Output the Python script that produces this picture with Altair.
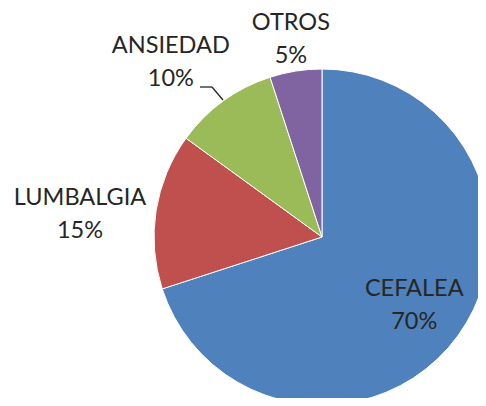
import altair as alt
import pandas as pd

categories = ["CEFALEA", "LUMBALGIA", "ANSIEDAD", "OTROS"]
values = [70, 15, 10, 5]
labels = ["CEFALEA\n70%", "LUMBALGIA\n15%", "ANSIEDAD\n10%", "OTROS\n5%"]
colors = ["#4F81BD", "#C0504D", "#9BBB59", "#8064A2"]

df = pd.DataFrame({"cat": categories, "val": values, "label": labels,
                   "order": list(range(len(categories)))})

CX, CY, R = 314, 229, 168
tscale = alt.Scale(domain=[0, 100])

pie = alt.Chart(df).mark_arc(outerRadius=R, stroke="white", strokeWidth=1).encode(
    theta=alt.Theta("val:Q", stack=True, scale=tscale),
    order=alt.Order("order:Q"),
    x=alt.value(CX), y=alt.value(CY),
    color=alt.Color("cat:N", scale=alt.Scale(domain=categories, range=colors), legend=None),
)

# label placement per slice: (radius, dx, dy)
place = {"CEFALEA": (114, 0, -15), "LUMBALGIA": (245, 0, -1),
         "ANSIEDAD": (230, -16, -5), "OTROS": (199, 0, -17)}

text_base = alt.Chart(df).transform_window(
    cum="sum(val)", sort=[alt.SortField("order")]
).transform_calculate(mid="datum.cum - datum.val / 2")

layers = [pie]
for c in categories:
    r, dx, dy = place[c]
    layers.append(
        text_base.transform_filter(alt.datum.cat == c)
        .mark_text(radius=r, dx=dx, dy=dy, font="Lato", fontSize=23.5,
                   color="#262626", lineBreak="\n", lineHeight=33,
                   align="center", baseline="middle")
        .encode(theta=alt.Theta("mid:Q", stack=None, scale=tscale),
                x=alt.value(CX), y=alt.value(CY), text="label:N")
    )

leader1 = alt.Chart(df).transform_filter(alt.datum.cat == "ANSIEDAD").mark_rule(
    color="#262626", strokeWidth=1.3).encode(
    x=alt.value(192), x2=alt.value(204), y=alt.value(79), y2=alt.value(79))
leader2 = alt.Chart(df).transform_filter(alt.datum.cat == "ANSIEDAD").mark_rule(
    color="#262626", strokeWidth=1.3).encode(
    x=alt.value(204), x2=alt.value(215), y=alt.value(79), y2=alt.value(92))

chart = alt.layer(*layers, leader1, leader2).properties(
    width=470, height=390, autosize=alt.AutoSizeParams(type="none"), padding=0
).configure_view(stroke=None)

chart.save("out.html", embed_options={"renderer": "svg", "actions": False})
